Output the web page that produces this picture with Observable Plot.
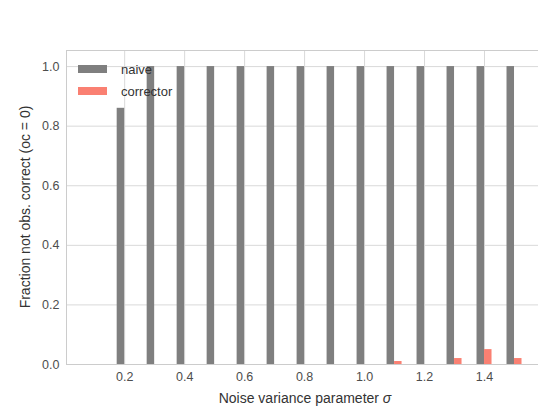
<!DOCTYPE html>
<html>
<head>
<meta charset="utf-8">
<script src="https://cdn.jsdelivr.net/npm/d3@7"></script>
<script src="https://cdn.jsdelivr.net/npm/@observablehq/plot@0.6"></script>
<style>
  html, body { margin: 0; padding: 0; background: #fff; }
  #wrap { position: relative; width: 538px; height: 414px; font-family: "Liberation Sans", Arial, sans-serif; }
  .legend { position: absolute; left: 78px; top: 58px; font-size: 13px; color: #333; }
  .legend .row { display: flex; align-items: center; height: 22px; }
  .legend .sw { width: 29px; height: 8px; margin-right: 14px; }
</style>
</head>
<body>
<div id="wrap"></div>
<script>
const sigma = [0.2, 0.3, 0.4, 0.5, 0.6, 0.7, 0.8, 0.9, 1.0, 1.1, 1.2, 1.3, 1.4, 1.5];
const naive = [0.86, 1, 1, 1, 1, 1, 1, 1, 1, 1, 1, 1, 1, 1];
const corrector = [0, 0, 0, 0, 0, 0, 0, 0, 0, 0.01, 0, 0.02, 0.05, 0.02];
const xTicks = [0.2, 0.4, 0.6, 0.8, 1.0, 1.2, 1.4];
const yTicks = [0, 0.2, 0.4, 0.6, 0.8, 1.0];
const seriesNames = ["naive", "corrector"];
const seriesColors = ["#7f7f7f", "#fa8072"];
const barWidth = 0.025;

const rows = sigma.map((s, i) => ({s, naive: naive[i], corrector: corrector[i]}));

const chart = Plot.plot({
  width: 538,
  height: 414,
  marginTop: 50,
  marginBottom: 50,
  marginLeft: 66,
  marginRight: 0,
  style: {fontFamily: "'Liberation Sans', Arial, sans-serif", fontSize: "12.5px", color: "#4d4d4d", background: "#fff"},
  x: {domain: [0.006, 1.58], label: null},
  y: {domain: [0, 1.054], label: null},
  marks: [
    Plot.gridX(xTicks, {stroke: "#d9d9d9", strokeOpacity: 1, strokeWidth: 1}),
    Plot.gridY(yTicks, {stroke: "#d9d9d9", strokeOpacity: 1, strokeWidth: 1}),
    Plot.frame({stroke: "#cccccc"}),
    Plot.rectY(rows, {x1: d => d.s - barWidth, x2: d => d.s, y: "naive", fill: seriesColors[0]}),
    Plot.rectY(rows, {x1: d => d.s, x2: d => d.s + barWidth, y: "corrector", fill: seriesColors[1]}),
    Plot.axisX({ticks: xTicks, tickFormat: d3.format(".1f"), tickSize: 0, tickPadding: 8, label: null}),
    Plot.axisY({ticks: yTicks, tickFormat: d3.format(".1f"), tickSize: 0, tickPadding: 7, label: null})
  ]
});

const wrap = document.getElementById("wrap");
wrap.appendChild(chart);

const svg = d3.select(chart);
svg.append("text")
  .attr("x", 305).attr("y", 403)
  .attr("text-anchor", "middle")
  .attr("fill", "#333").attr("font-size", 14)
  .html('Noise variance parameter <tspan font-style="italic">σ</tspan>');
svg.append("text")
  .attr("transform", "translate(30,207) rotate(-90)")
  .attr("text-anchor", "middle")
  .attr("fill", "#333").attr("font-size", 14)
  .text("Fraction not obs. correct (oc = 0)");

const legend = document.createElement("div");
legend.className = "legend";
seriesNames.forEach((n, i) => {
  const r = document.createElement("div");
  r.className = "row";
  const sw = document.createElement("div");
  sw.className = "sw";
  sw.style.background = seriesColors[i];
  const t = document.createElement("span");
  t.textContent = n;
  r.appendChild(sw); r.appendChild(t);
  legend.appendChild(r);
});
wrap.appendChild(legend);
</script>
</body>
</html>
